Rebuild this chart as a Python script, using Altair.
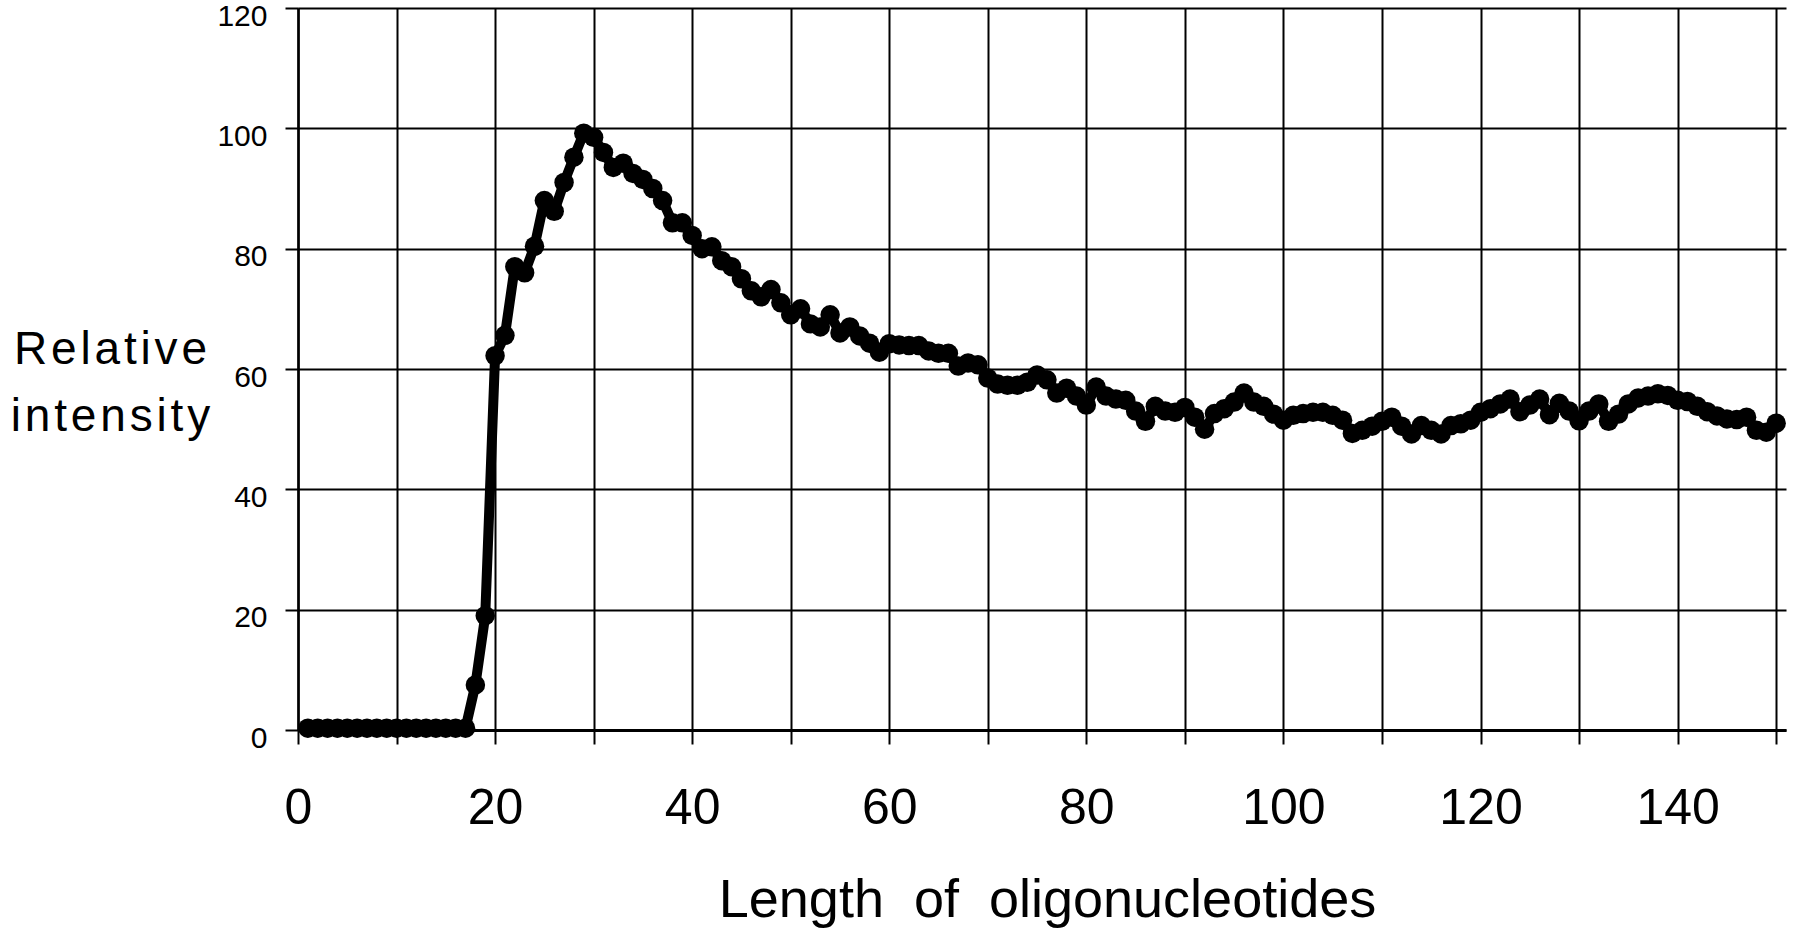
import altair as alt
import pandas as pd

# Length of oligonucleotides (nt)
lengths = [
    1, 2, 3, 4, 5, 6, 7, 8, 9, 10, 11, 12, 13, 14, 15, 16, 17, 18, 19, 20,
    21, 22, 23, 24, 25, 26, 27, 28, 29, 30, 31, 32, 33, 34, 35, 36, 37, 38, 39, 40,
    41, 42, 43, 44, 45, 46, 47, 48, 49, 50, 51, 52, 53, 54, 55, 56, 57, 58, 59, 60,
    61, 62, 63, 64, 65, 66, 67, 68, 69, 70, 71, 72, 73, 74, 75, 76, 77, 78, 79, 80,
    81, 82, 83, 84, 85, 86, 87, 88, 89, 90, 91, 92, 93, 94, 95, 96, 97, 98, 99, 100,
    101, 102, 103, 104, 105, 106, 107, 108, 109, 110, 111, 112, 113, 114, 115, 116, 117, 118, 119, 120,
    121, 122, 123, 124, 125, 126, 127, 128, 129, 130, 131, 132, 133, 134, 135, 136, 137, 138, 139, 140,
    141, 142, 143, 144, 145, 146, 147, 148, 149, 150,
]

# Relative intensity
intensity = [
    0.3, 0.3, 0.3, 0.3, 0.3, 0.3, 0.3, 0.3, 0.3, 0.3, 0.3, 0.3, 0.3, 0.3, 0.3, 0.3, 0.3, 7.5, 19, 62.2,
    65.6, 77, 76, 80.4, 88, 86.2, 91, 95.2, 99.2, 98.5, 96, 93.5, 94.2, 92.5, 91.5, 90, 88, 84.3, 84.3, 82.2,
    80, 80.3, 78, 77, 75, 73, 72, 73.2, 71, 69, 70, 67.5, 67, 69, 66, 67, 65.5, 64.3, 62.8, 64.2,
    64, 63.9, 63.9, 63, 62.6, 62.6, 60.5, 61, 60.7, 58.5, 57.5, 57.3, 57.3, 57.8, 59, 58.2, 56, 56.8, 55.5, 54,
    57, 55.5, 55, 54.8, 53, 51.3, 53.8, 53, 52.8, 53.6, 52, 50, 52.6, 53.4, 54.5, 56, 54.5, 53.8, 52.5, 51.5,
    52.3, 52.6, 52.8, 52.8, 52.3, 51.5, 49.3, 49.8, 50.5, 51.3, 52, 50.5, 49.2, 50.6, 49.8, 49.2, 50.6, 50.9, 51.5, 52.8,
    53.4, 54.2, 55, 52.9, 54, 55, 52.4, 54.3, 53, 51.4, 53, 54.2, 51.3, 52.5, 54.2, 55.2, 55.5, 55.9, 55.6, 54.8,
    54.6, 53.8, 52.9, 52.2, 51.7, 51.6, 52, 49.8, 49.5, 51,
]

x_ticks = [0, 10, 20, 30, 40, 50, 60, 70, 80, 90, 100, 110, 120, 130, 140, 150]
y_ticks = [0, 20, 40, 60, 80, 100, 120]

HS = "\u200a"  # hair space used to widen letter spacing like the original typesetting
x_title = "Length\u00a0\u00a0of\u00a0\u00a0oligonucleotides"
y_title = [HS.join("Relative"), HS.join("intensity")]

df = pd.DataFrame({"length": lengths, "intensity": intensity})

FONT = "Liberation Sans"

x_enc = alt.X(
    "length:Q",
    scale=alt.Scale(domain=[0, 151], nice=False, zero=False),
    axis=alt.Axis(
        values=x_ticks,
        title=x_title,
        grid=True,
        gridColor="black",
        gridWidth=2,
        gridOpacity=1,
        domainColor="black",
        domainWidth=3,
        tickColor="black",
        tickWidth=2,
        tickSize=14,
        labelFont=FONT,
        labelFontSize=50,
        labelColor="black",
        labelPadding=39,
        labelFlush=False,
        labelOverlap=False,
        labelExpr="(datum.value % 20 == 0 && datum.value < 150) ? '\u00a0' + datum.label : ''",
        titleFont=FONT,
        titleFontSize=54,
        titleFontWeight="normal",
        titleColor="black",
        titleX=749,
        titleY=186,
        titleAlign="center",
        titleBaseline="alphabetic",
    ),
)

y_enc = alt.Y(
    "intensity:Q",
    scale=alt.Scale(domain=[0, 120], nice=False),
    axis=alt.Axis(
        values=y_ticks,
        title=y_title,
        grid=True,
        gridColor="black",
        gridWidth=2,
        gridOpacity=1,
        domainColor="black",
        domainWidth=2.5,
        tickColor="black",
        tickWidth=2,
        tickSize=13,
        labelFont=FONT,
        labelFontSize=30,
        labelFontWeight="normal",
        labelColor="black",
        labelPadding=18,
        labelOffset=8,
        labelFlush=False,
        labelOverlap=False,
        titleFont=FONT,
        titleFontSize=46,
        titleFontWeight="normal",
        titleColor="black",
        titleAngle=0,
        titleX=-188,
        titleY=355,
        titleAlign="center",
        titleBaseline="alphabetic",
        titleLineHeight=67,
    ),
)

base = alt.Chart(df).encode(x=x_enc, y=y_enc)

line = base.mark_line(color="black", strokeWidth=10, strokeJoin="round", strokeCap="round")
points = base.mark_circle(size=380, color="black", opacity=1)

chart = (
    alt.layer(line, points)
    .properties(
        width=1488,
        height=722,
        autosize=alt.AutoSizeParams(type="none"),
        padding={"left": 298, "top": 8, "right": 14, "bottom": 200},
        background="white",
    )
    .configure_view(strokeWidth=0)
)

chart.save("out.html", embed_options={"renderer": "svg", "actions": False})
